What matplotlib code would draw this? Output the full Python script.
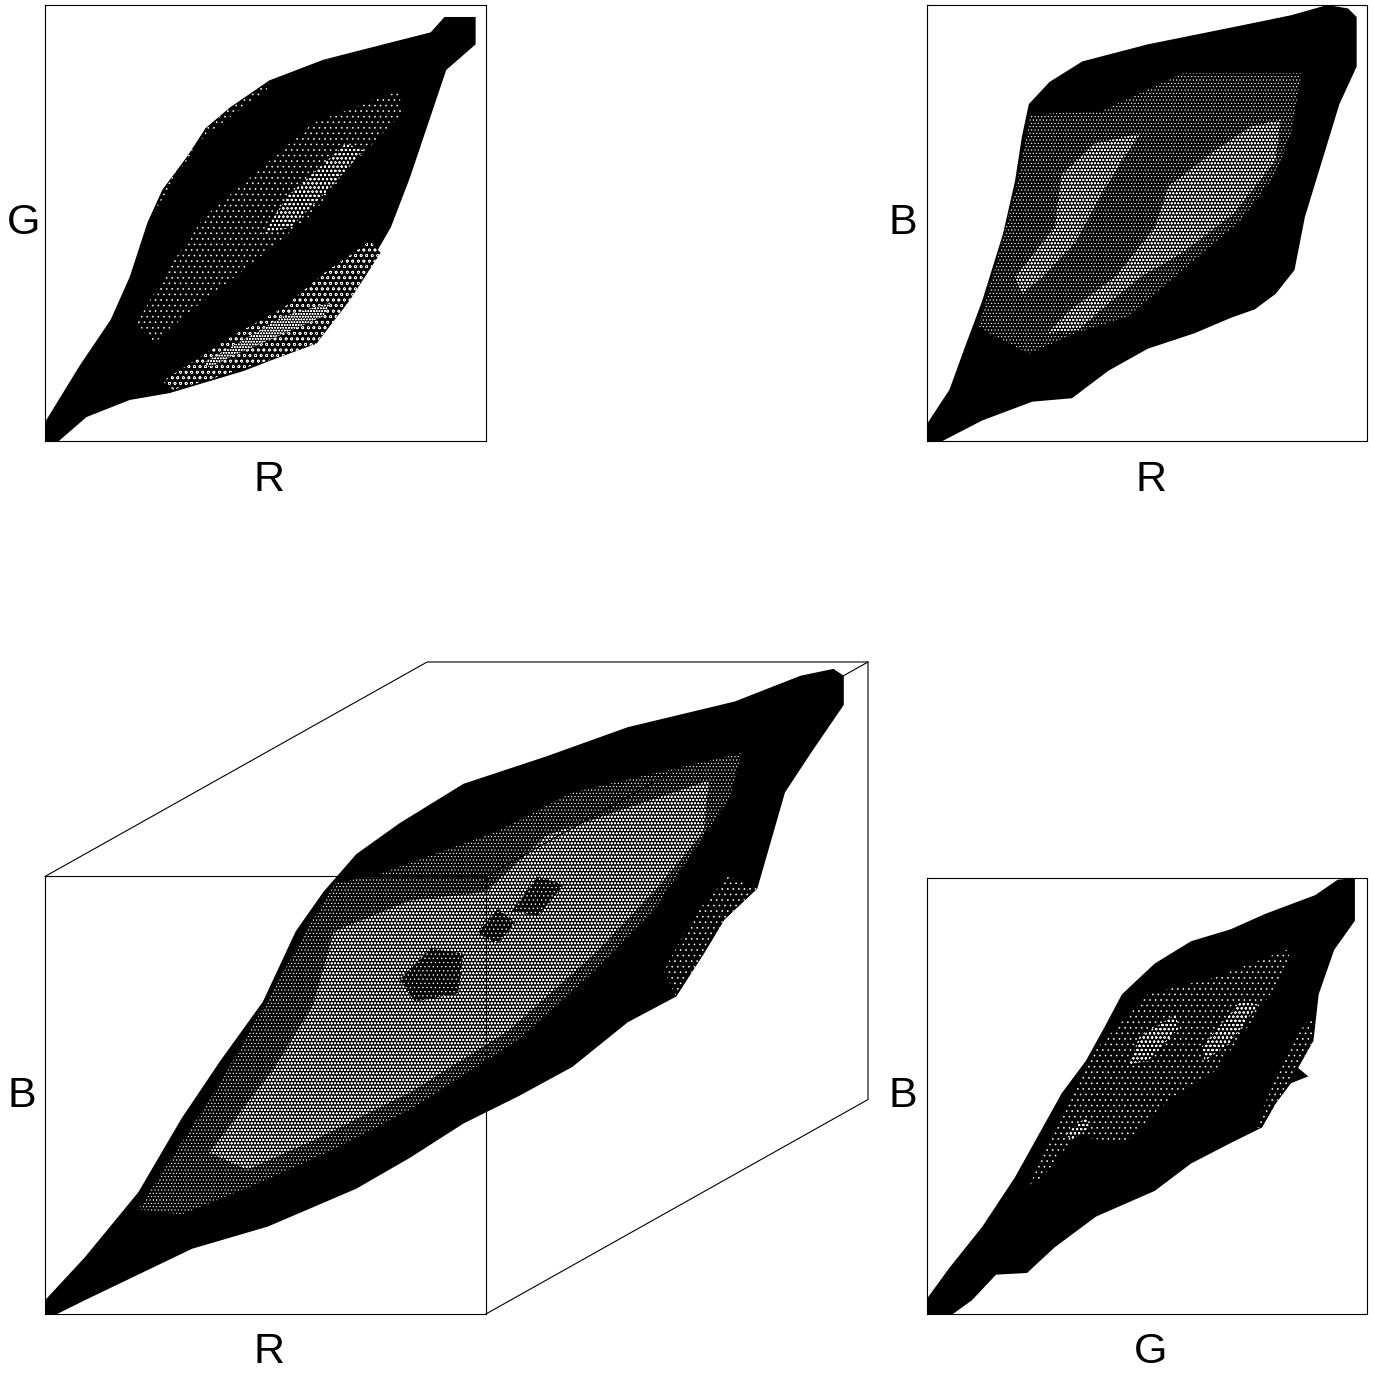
import matplotlib
matplotlib.use("Agg")
import matplotlib.pyplot as plt

plt.rcParams["font.family"] = ["Liberation Sans", "DejaVu Sans"]
plt.rcParams["hatch.linewidth"] = 0.45

WIDTH, HEIGHT = 1375, 1374

# outlines of the point clouds (0-255 colour values)
rg_x = [0, 20, 38, 49, 59, 68, 82, 93, 107, 130, 161, 188, 223, 231, 249, 249, 232, 221, 211, 200, 188, 174, 157, 138, 115, 72, 49, 24, 8, 0]
rg_y = [11, 44, 71, 96, 127, 147, 166, 183, 195, 211, 223, 230, 239, 248, 248, 232, 217, 184, 154, 125, 104, 82, 57, 50, 41, 28, 24, 14, 0, 0]
rg_sparse_x = [53, 72, 92, 130, 155, 205, 206, 176, 155, 115, 84, 63]
rg_sparse_y = [69, 102, 131, 164, 186, 205, 191, 160, 133, 100, 76, 57]
rg_patch_x = [126, 140, 174, 184, 165, 142]
rg_patch_y = [121, 143, 174, 170, 148, 125]
rg_low_x = [68, 111, 138, 161, 188, 194, 176, 157, 138, 92, 74]
rg_low_y = [35, 63, 78, 98, 117, 110, 82, 57, 50, 35, 30]
rg_streak_x = [92, 111, 138, 165, 161, 134, 111, 95]
rg_streak_y = [46, 57, 73, 81, 73, 61, 51, 43]
rg_edge_x = [59, 68, 82, 93, 107, 130, 128, 105, 90, 78, 65]
rg_edge_y = [127, 147, 166, 183, 195, 211, 205, 188, 176, 158, 137]

rb_x = [0, 13, 22, 32, 44, 51, 55, 59, 71, 90, 128, 182, 211, 232, 244, 249, 249, 239, 229, 219, 213, 202, 190, 176, 155, 128, 105, 84, 61, 32, 9, 0]
rb_y = [10, 30, 55, 82, 121, 152, 178, 197, 210, 222, 232, 243, 249, 255, 253, 248, 219, 197, 164, 131, 100, 86, 77, 72, 63, 54, 41, 25, 23, 12, 0, 0]
rb_sparse_x = [30, 38, 52, 60, 101, 148, 217, 211, 202, 182, 153, 117, 86, 59, 36]
rb_sparse_y = [67, 96, 149, 191, 193, 215, 215, 180, 156, 129, 104, 73, 63, 51, 63]
rb_right_x = [109, 132, 140, 167, 188, 205, 202, 178, 148, 124, 107]
rb_right_y = [96, 125, 149, 170, 184, 188, 164, 133, 110, 96, 82]
rb_left_x = [51, 74, 78, 97, 124, 113, 97, 86, 67, 55]
rb_left_y = [96, 125, 156, 174, 180, 164, 137, 116, 96, 86]
rb_low_x = [70, 82, 109, 107, 88]
rb_low_y = [63, 76, 96, 82, 65]

gb_x = [0, 13, 32, 51, 67, 78, 92, 103, 113, 132, 153, 176, 196, 225, 238, 248, 248, 236, 227, 224, 215, 221, 211, 202, 194, 176, 153, 132, 98, 74, 58, 40, 26, 15, 0]
gb_y = [9, 27, 51, 80, 109, 129, 148, 168, 187, 205, 218, 225, 234, 245, 254, 255, 230, 213, 187, 160, 144, 139, 135, 123, 109, 100, 88, 72, 57, 39, 24, 23, 8, 0, 0]
gb_sparse_x = [59, 74, 97, 128, 167, 211, 207, 186, 167, 140, 115, 86, 67]
gb_sparse_y = [74, 109, 154, 187, 197, 214, 199, 168, 142, 125, 100, 104, 80]
gb_edge_x = [190, 201, 211, 223, 224, 215, 202, 194]
gb_edge_y = [109, 135, 158, 175, 160, 144, 123, 109]
gb_patch1_x = [117, 123, 144, 146, 128]
gb_patch1_y = [146, 162, 175, 167, 148]
gb_patch2_x = [159, 182, 192, 176, 161]
gb_patch2_y = [156, 183, 181, 159, 148]
gb_patch3_x = [80, 92, 94, 84]
gb_patch3_y = [105, 115, 109, 102]

# 3d view, x and y already include the oblique shift of G
box_x = [0, 23, 54, 79, 101, 126, 145, 161, 180, 205, 242, 290, 337, 399, 437, 456, 462, 462, 443, 428, 412, 393, 381, 365, 337, 305, 274, 242, 211, 180, 129, 85, 54, 23, 7, 0]
box_y = [8, 33, 71, 114, 147, 182, 223, 246, 268, 286, 309, 325, 342, 357, 372, 376, 372, 355, 327, 304, 248, 230, 210, 185, 170, 144, 127, 111, 91, 73, 51, 38, 23, 8, 0, 0]
box_sparse_x = [54, 101, 131, 155, 168, 192, 261, 305, 403, 396, 374, 352, 318, 274, 211, 167, 123, 79]
box_sparse_y = [61, 134, 187, 230, 251, 256, 281, 304, 327, 301, 268, 235, 200, 160, 119, 96, 76, 58]
box_dense_x = [95, 133, 155, 167, 211, 255, 290, 384, 381, 352, 318, 268, 211, 155, 117]
box_dense_y = [94, 144, 180, 223, 241, 246, 279, 311, 281, 246, 210, 165, 129, 101, 84]
box_edge_x = [412, 393, 381, 365, 358, 375, 395]
box_edge_y = [248, 230, 210, 185, 200, 232, 255]
box_spot1_x = [205, 223, 242, 239, 214]
box_spot1_y = [195, 213, 210, 187, 182]
box_spot2_x = [250, 262, 272, 262]
box_spot2_y = [222, 236, 228, 216]
box_spot3_x = [270, 285, 300, 285]
box_spot3_y = [235, 255, 250, 232]
shift_x, shift_y = 221, 125


def makeAxes(fig, left, top, right, bottom, x_max=255, y_max=255):
    ax = fig.add_axes([left / WIDTH, 1 - bottom / HEIGHT, (right - left) / WIDTH, (bottom - top) / HEIGHT])
    ax.set_xlim(0, x_max)
    ax.set_ylim(0, y_max)
    ax.set_xticks([])
    ax.set_yticks([])
    return ax


def speckle(ax, x, y, pattern):
    ax.fill(x, y, facecolor="black", edgecolor="white", hatch=pattern, linewidth=0)


def labels(fig, x_name, y_name, x_pos, y_pos, x_lab_y, y_lab_x):
    fig.text(x_pos / WIDTH, 1 - x_lab_y / HEIGHT, x_name, fontsize=31, ha="center", va="center")
    fig.text(y_lab_x / WIDTH, 1 - y_pos / HEIGHT, y_name, fontsize=31, ha="center", va="center")


fig = plt.figure(figsize=(WIDTH / 100, HEIGHT / 100), dpi=100)

ax = makeAxes(fig, 45, 5, 486, 441)
ax.fill(rg_x, rg_y, color="black", linewidth=0)
speckle(ax, rg_edge_x, rg_edge_y, "...")
speckle(ax, rg_sparse_x, rg_sparse_y, "...")
speckle(ax, rg_patch_x, rg_patch_y, "oooo")
speckle(ax, rg_low_x, rg_low_y, "ooo")
speckle(ax, rg_streak_x, rg_streak_y, "oooooo")
labels(fig, "R", "G", 269, 223, 480, 24)

ax = makeAxes(fig, 927, 5, 1367, 441)
ax.fill(rb_x, rb_y, color="black", linewidth=0)
speckle(ax, rb_sparse_x, rb_sparse_y, ".....")
speckle(ax, rb_right_x, rb_right_y, "ooooo")
speckle(ax, rb_left_x, rb_left_y, "ooooo")
speckle(ax, rb_low_x, rb_low_y, "ooooo")
labels(fig, "R", "B", 1151, 223, 480, 903)

ax = makeAxes(fig, 927, 878, 1367, 1314)
ax.fill(gb_x, gb_y, color="black", linewidth=0)
speckle(ax, gb_sparse_x, gb_sparse_y, "...")
speckle(ax, gb_edge_x, gb_edge_y, "...")
speckle(ax, gb_patch1_x, gb_patch1_y, "oooo")
speckle(ax, gb_patch2_x, gb_patch2_y, "oooo")
speckle(ax, gb_patch3_x, gb_patch3_y, "oooo")
labels(fig, "G", "B", 1151, 1096, 1352, 903)

ax = makeAxes(fig, 45, 662, 868, 1314, 255 + shift_x, 255 + shift_y)
for s in ax.spines.values():
    s.set_visible(False)
ax.fill(box_x, box_y, color="black", linewidth=0)
speckle(ax, box_edge_x, box_edge_y, "...")
speckle(ax, box_sparse_x, box_sparse_y, ".....")
speckle(ax, box_dense_x, box_dense_y, "ooooo")
speckle(ax, box_spot1_x, box_spot1_y, "....")
speckle(ax, box_spot2_x, box_spot2_y, "....")
speckle(ax, box_spot3_x, box_spot3_y, "....")
# cube edges
ax.plot([0, 255, 255, 0, 0], [0, 0, 255, 255, 0], color="black", linewidth=0.8, clip_on=False)
ax.plot([0, shift_x, 255 + shift_x, 255 + shift_x, 255],
        [255, 255 + shift_y, 255 + shift_y, shift_y, 0], color="black", linewidth=0.8, clip_on=False)
ax.plot([255, 255 + shift_x], [255, 255 + shift_y], color="black", linewidth=0.8, clip_on=False)
labels(fig, "R", "B", 269, 1096, 1352, 22)

fig.savefig("out.png", dpi=100)
